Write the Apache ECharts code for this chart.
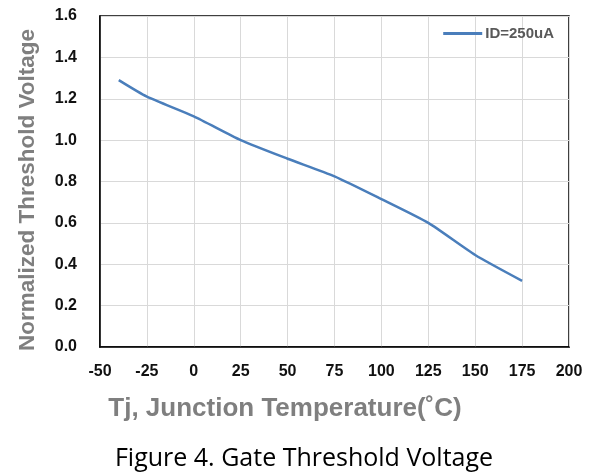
<!DOCTYPE html>
<html><head><meta charset="utf-8">
<script src="https://cdn.jsdelivr.net/npm/echarts@6/dist/echarts.min.js"></script>
<style>html,body{margin:0;padding:0;background:#fff}#c{width:595px;height:473px}</style>
</head><body><div id="c"></div>
<script>
const temps = [-40, -25, 0, 25, 50, 75, 100, 125, 150, 175];
const vth = [1.29, 1.21, 1.115, 1.0, 0.91, 0.825, 0.715, 0.60, 0.445, 0.32];
const seriesName = 'ID=250uA';
const xTitle = 'Tj, Junction Temperature(˚C)';
const yTitle = 'Normalized Threshold Voltage';
const caption = 'Figure 4. Gate Threshold Voltage';

const chart = echarts.init(document.getElementById('c'));
chart.setOption({
  animation: false,
  backgroundColor: '#fff',
  graphic: [
    {type: 'text', x: 304, y: 459, style: {text: caption, textAlign: 'center', textVerticalAlign: 'middle',
      font: 'normal 25px "Open Sans"', fill: '#000'}},
    {type: 'text', x: 285, y: 409, style: {text: xTitle, textAlign: 'center', textVerticalAlign: 'middle',
      font: 'bold 26px "Liberation Sans"', fill: '#7f7f7f'}},
    {type: 'text', x: 28, y: 190, rotation: Math.PI / 2, style: {text: yTitle, textAlign: 'center', textVerticalAlign: 'middle',
      font: 'bold 22.5px "Liberation Sans"', fill: '#7f7f7f'}}
  ],
  legend: {
    right: 41, top: 26, padding: 0, itemWidth: 39, itemHeight: 3, itemGap: 4,
    icon: 'rect',
    textStyle: {fontFamily: 'Liberation Sans', fontWeight: 'bold', fontSize: 15, color: '#595959', padding: [0,0,0,-2]},
    data: [seriesName]
  },
  grid: {left: 100, right: 26, top: 16, bottom: 126, show: true, borderColor: '#000', borderWidth: 1.5},
  xAxis: {
    type: 'value', min: -50, max: 200, interval: 25,
    axisLine: {show: true, onZero: false, lineStyle: {color: '#000', width: 1.5}},
    axisTick: {show: false},
    axisLabel: {margin: 17, fontFamily: 'Liberation Sans', fontWeight: 'bold', fontSize: 16, color: '#111'},
    splitLine: {show: true, lineStyle: {color: '#d9d9d9', width: 1}}
  },
  yAxis: {
    type: 'value', min: 0, max: 1.6, interval: 0.2,
    axisLine: {show: true, onZero: false, lineStyle: {color: '#000', width: 1.5}},
    axisTick: {show: false},
    axisLabel: {margin: 23, fontFamily: 'Liberation Sans', fontWeight: 'bold', fontSize: 16, color: '#111',
      formatter: v => v.toFixed(1)},
    splitLine: {show: true, lineStyle: {color: '#d9d9d9', width: 1}}
  },
  series: [{
    name: seriesName, type: 'line', smooth: 0.2, showSymbol: false, symbol: 'none',
    data: temps.map((t, i) => [t, vth[i]]),
    lineStyle: {color: '#4a7ebb', width: 2.5},
    itemStyle: {color: '#4a7ebb'}
  }]
});
</script></body></html>
